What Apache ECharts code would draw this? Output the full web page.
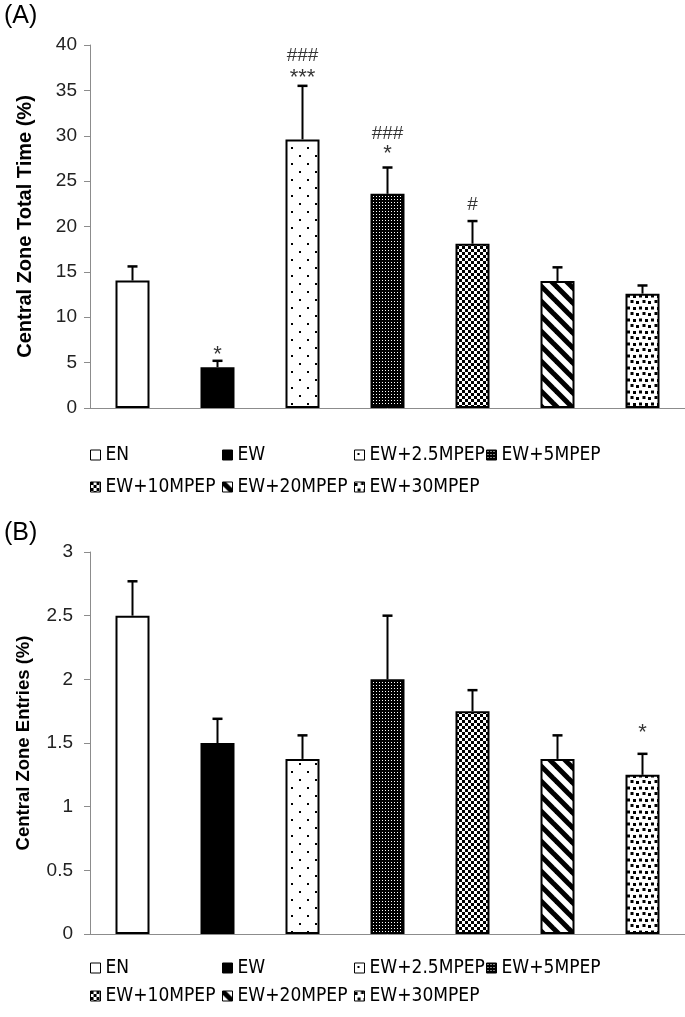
<!DOCTYPE html>
<html>
<head>
<meta charset="utf-8">
<script src="https://cdn.jsdelivr.net/npm/echarts@6/dist/echarts.min.js"></script>
<style>
  html, body { margin: 0; padding: 0; background: #fff; }
  #chart { width: 685px; height: 1017px; }
</style>
</head>
<body>
<div id="chart"></div>
<script>
// ---------------- data ----------------
const categories = ['EN', 'EW', 'EW+2.5MPEP', 'EW+5MPEP', 'EW+10MPEP', 'EW+20MPEP', 'EW+30MPEP'];

// Panel A: Central Zone Total Time (%)
const timeMean = [14.05, 4.5, 29.6, 23.6, 18.1, 14.0, 12.6];
const timeSem  = [1.55, 0.7, 5.9, 2.9, 2.5, 1.5, 0.9];
const timeTicks = { min: 0, max: 40, interval: 5 };
const timeAnnotCat  = [1, 2, 2, 3, 3, 4];
const timeAnnotText = ['*', '***', '###', '*', '###', '#'];
const timeAnnotVal  = [6.4, 36.9, 38.8, 28.5, 30.2, 22.4];

// Panel B: Central Zone Entries (%)
const entriesMean = [2.5, 1.5, 1.375, 2.0, 1.75, 1.375, 1.25];
const entriesSem  = [0.27, 0.19, 0.185, 0.5, 0.165, 0.185, 0.165];
const entriesTicks = { min: 0, max: 3, interval: 0.5 };
const entriesAnnotCat  = [6];
const entriesAnnotText = ['*'];
const entriesAnnotVal  = [1.62];

// ---------------- patterns ----------------
function tile(w, h, draw) {
  const c = document.createElement('canvas');
  c.width = w; c.height = h;
  const g = c.getContext('2d');
  draw(g, w, h);
  return { image: c, repeat: 'repeat' };
}
const fills = [
  '#ffffff',
  '#000000',
  tile(16, 16, (g) => { g.fillStyle = '#fff'; g.fillRect(0, 0, 16, 16); g.fillStyle = '#000';
    g.fillRect(3, 3, 2, 2); g.fillRect(11, 11, 2, 2); }),
  tile(3, 3, (g) => { g.fillStyle = '#000'; g.fillRect(0, 0, 3, 3); g.fillStyle = '#fff'; g.fillRect(1, 1, 1, 1); }),
  tile(6, 6, (g) => { g.fillStyle = '#fff'; g.fillRect(0, 0, 6, 6); g.fillStyle = '#000';
    g.fillRect(0, 0, 3, 3); g.fillRect(3, 3, 3, 3); }),
  tile(15, 15, (g) => { g.fillStyle = '#fff'; g.fillRect(0, 0, 15, 15); g.strokeStyle = '#000'; g.lineWidth = 5;
    for (let k = -1; k <= 1; k++) { g.beginPath(); g.moveTo(k * 15 - 2, -2); g.lineTo(k * 15 + 17, 17); g.stroke(); } }),
  tile(12, 12, (g) => { g.fillStyle = '#fff'; g.fillRect(0, 0, 12, 12); g.fillStyle = '#000';
    g.fillRect(0, 1, 3, 3); g.fillRect(6.5, 0, 3, 3); g.fillRect(3, 6.5, 3, 3); g.fillRect(9, 7, 3, 3); })
];

// ---------------- layout ----------------
const FONT = "'Liberation Sans', Arial, sans-serif";
const LEGEND_FONT = "'Liberation Sans Narrow', 'DejaVu Sans Condensed', sans-serif";
const grids = [
  { left: 90, width: 595, top: 45, height: 363 },
  { left: 90, width: 595, top: 552, height: 382 }
];
const legendRows = [[455, 487], [968, 996]];
const panels = [
  { mean: timeMean, sem: timeSem, ticks: timeTicks, title: 'Central Zone Total Time (%)', titleSize: 20, nameGap: 55,
    aCat: timeAnnotCat, aText: timeAnnotText, aVal: timeAnnotVal, labelMargin: 13 },
  { mean: entriesMean, sem: entriesSem, ticks: entriesTicks, title: 'Central Zone Entries (%)', titleSize: 18.5, nameGap: 57,
    aCat: entriesAnnotCat, aText: entriesAnnotText, aVal: entriesAnnotVal, labelMargin: 17 }
];

const xAxis = [], yAxis = [], series = [], legend = [];
panels.forEach((p, pi) => {
  xAxis.push({
    type: 'category', gridIndex: pi, data: categories,
    axisLine: { show: true, lineStyle: { color: '#8c8c8c', width: 1 } },
    axisTick: { show: false }, axisLabel: { show: false }, splitLine: { show: false }
  });
  yAxis.push({
    type: 'value', gridIndex: pi, min: p.ticks.min, max: p.ticks.max, interval: p.ticks.interval,
    name: p.title, nameLocation: 'middle', nameRotate: 90, nameGap: p.nameGap,
    nameTextStyle: { fontFamily: FONT, fontWeight: 'bold', fontSize: p.titleSize, color: '#000' },
    axisLine: { show: true, lineStyle: { color: '#8c8c8c', width: 1 } },
    axisTick: { show: true, length: 6, lineStyle: { color: '#8c8c8c' } },
    axisLabel: { fontFamily: FONT, fontSize: 19, color: '#222', margin: p.labelMargin },
    splitLine: { show: false }
  });
  categories.forEach((name, ci) => {
    series.push({
      type: 'bar', name: name, xAxisIndex: pi, yAxisIndex: pi,
      barWidth: 34, barGap: '-100%',
      data: categories.map((_, k) => k === ci ? p.mean[k] : null),
      itemStyle: { color: fills[ci], borderColor: '#000', borderWidth: 2 },
      emphasis: { disabled: true }, silent: true, z: 2
    });
  });
  series.push({
    type: 'custom', name: 'err' + pi, xAxisIndex: pi, yAxisIndex: pi, z: 3, silent: true,
    data: p.mean.map((m, k) => [k, m, m + p.sem[k]]),
    renderItem: function (params, api) {
      const a = api.coord([api.value(0), api.value(1)]);
      const b = api.coord([api.value(0), api.value(2)]);
      return { type: 'group', children: [
        { type: 'line', shape: { x1: a[0], y1: a[1], x2: b[0], y2: b[1] }, style: { stroke: '#000', lineWidth: 2 } },
        { type: 'line', shape: { x1: b[0] - 5, y1: b[1], x2: b[0] + 5, y2: b[1] }, style: { stroke: '#000', lineWidth: 2.5 } }
      ] };
    }
  });
  series.push({
    type: 'scatter', name: 'ann' + pi, xAxisIndex: pi, yAxisIndex: pi, symbolSize: 0, silent: true, z: 4,
    data: p.aCat.map((c, k) => {
      const star = p.aText[k].indexOf('*') >= 0;
      return { value: [c, p.aVal[k]], txt: p.aText[k],
        label: star ? { fontSize: 22, offset: [0, 5] } : { fontSize: 19 } };
    }),
    label: {
      show: true, position: 'inside', fontFamily: FONT, fontSize: 19, color: '#000',
      formatter: (d) => d.data.txt
    }
  });
  categories.forEach((name, ci) => {
    const col = ci < 4 ? ci : ci - 4;
    const row = ci < 4 ? 0 : 1;
    legend.push({
      data: [name], left: 90 + col * 132, top: legendRows[pi][row] - 10, padding: 0,
      icon: 'rect', itemWidth: 10, itemHeight: 10, selectedMode: false,
      itemStyle: { borderColor: '#000', borderWidth: 1 },
      textStyle: { fontFamily: LEGEND_FONT, fontSize: 19, color: '#000', lineHeight: 20, padding: [0, 0, 0, 0] }
    });
  });
});

const chart = echarts.init(document.getElementById('chart'), null, { renderer: 'canvas' });
chart.setOption({
  backgroundColor: '#fff',
  animation: false,
  title: [
    { text: '(A)', left: 4, top: 4, textStyle: { fontFamily: FONT, fontWeight: 'normal', fontSize: 25, color: '#000' }, padding: 0 },
    { text: '(B)', left: 4, top: 521, textStyle: { fontFamily: FONT, fontWeight: 'normal', fontSize: 25, color: '#000' }, padding: 0 }
  ],
  grid: grids,
  xAxis: xAxis,
  yAxis: yAxis,
  legend: legend,
  series: series
});
</script>
</body>
</html>
